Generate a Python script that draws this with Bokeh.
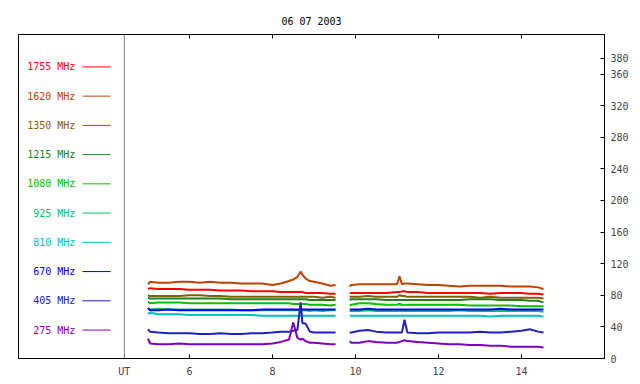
from bokeh.plotting import figure
from bokeh.models import Range1d, LinearAxis, FixedTicker, Span, Title
from bokeh.core.properties import value
from bokeh.embed import file_html
from bokeh.resources import INLINE

title_text = "06 07 2003"
freqs = ["1755 MHz", "1620 MHz", "1350 MHz", "1215 MHz", "1080 MHz",
         "925 MHz", "810 MHz", "670 MHz", "405 MHz", "275 MHz"]
colors = ["#FF0000", "#C04000", "#806000", "#208020", "#00C000",
          "#00C060", "#00C0C0", "#0000FF", "#2020C0", "#8000C0"]

ut_hour = 4.43
x_ticks = [6, 8, 10, 12, 14]
y_ticks = [0, 40, 80, 120, 160, 200, 240, 280, 320, 360, 380]

t1 = [5.00, 5.05, 5.25, 5.50, 5.75, 6.00, 6.25, 6.50, 6.75, 7.00, 7.25, 7.50, 7.75,
      8.00, 8.20, 8.40, 8.50, 8.60, 8.68, 8.72, 8.80, 8.90, 9.00, 9.20, 9.40, 9.52]
t2 = [9.86, 9.90, 10.10, 10.30, 10.50, 10.75, 11.00, 11.06, 11.12, 11.18, 11.25, 11.50,
      11.75, 12.00, 12.25, 12.50, 12.75, 13.00, 13.25, 13.50, 13.75, 14.00, 14.20, 14.40, 14.53]

s1755_a = [88, 89, 88, 88, 88, 87, 87, 87, 86, 86, 86, 85, 85, 85, 84, 84, 84, 84, 84, 84, 83, 83, 83, 83, 82, 82]
s1620_a = [94, 97, 96, 96, 97, 97, 96, 97, 96, 96, 95, 95, 95, 93, 95, 98, 100, 103, 110, 106, 101, 98, 97, 95, 92, 93]
s1350_a = [80, 79, 79, 79, 79, 80, 80, 79, 79, 78, 78, 78, 78, 78, 78, 78, 78, 78, 78, 78, 78, 78, 78, 77, 78, 77]
s1215_a = [77, 76, 76, 76, 76, 76, 76, 76, 76, 75, 75, 75, 75, 75, 75, 75, 75, 75, 75, 75, 75, 74, 74, 74, 74, 74]
s1080_a = [72, 70, 71, 71, 71, 70, 70, 70, 70, 70, 70, 70, 70, 70, 70, 70, 69, 69, 69, 69, 69, 68, 68, 68, 67, 68]
s925_a = [63, 62, 63, 62, 62, 62, 62, 62, 62, 62, 61, 61, 61, 61, 61, 61, 61, 61, 61, 61, 61, 60, 61, 60, 61, 61]
s810_a = [56, 58, 56, 56, 56, 55, 55, 55, 55, 55, 55, 55, 54, 54, 54, 54, 54, 54, 54, 54, 54, 54, 54, 54, 54, 54]
s670_a = [64, 61, 61, 62, 61, 61, 61, 61, 61, 61, 61, 61, 62, 62, 62, 62, 62, 62, 62, 62, 62, 62, 62, 62, 62, 62]
s405_a = [37, 34, 33, 32, 32, 32, 31, 31, 32, 31, 31, 32, 32, 33, 34, 34, 35, 36, 71, 45, 44, 34, 33, 33, 33, 33]
s275_a = [25, 19, 18, 18, 19, 18, 18, 18, 18, 18, 18, 18, 18, 19, 21, 24, 46, 26, 24, 25, 22, 20, 20, 19, 18, 18]

s1755_b = [83, 83, 83, 83, 83, 83, 84, 84, 85, 85, 84, 84, 83, 83, 83, 83, 83, 83, 82, 83, 83, 83, 82, 82, 81]
s1620_b = [91, 93, 94, 94, 94, 94, 94, 104, 94, 95, 95, 94, 93, 93, 92, 91, 92, 92, 92, 92, 91, 91, 91, 90, 88]
s1350_b = [78, 78, 78, 79, 78, 78, 78, 80, 79, 79, 78, 78, 78, 78, 78, 78, 78, 77, 78, 77, 77, 77, 77, 77, 76]
s1215_b = [74, 75, 75, 75, 75, 74, 74, 74, 74, 74, 74, 74, 74, 74, 74, 74, 75, 75, 75, 74, 74, 74, 73, 73, 71]
s1080_b = [67, 68, 70, 70, 69, 68, 68, 69, 68, 68, 68, 68, 68, 68, 68, 68, 67, 67, 67, 67, 67, 66, 66, 66, 66]
s925_b = [60, 60, 60, 61, 60, 60, 60, 60, 60, 60, 60, 60, 60, 60, 60, 61, 60, 60, 60, 60, 60, 60, 60, 60, 59]
s810_b = [54, 54, 54, 54, 54, 54, 54, 54, 54, 54, 54, 54, 54, 54, 54, 54, 54, 54, 53, 54, 54, 54, 54, 54, 53]
s670_b = [62, 62, 62, 63, 62, 62, 62, 62, 62, 62, 62, 62, 62, 62, 62, 62, 62, 62, 62, 63, 62, 62, 62, 62, 62]
s405_b = [33, 33, 35, 36, 34, 33, 33, 33, 33, 49, 33, 32, 32, 33, 33, 33, 33, 34, 33, 33, 34, 35, 37, 34, 33]
s275_b = [22, 20, 20, 22, 21, 20, 20, 21, 22, 23, 22, 21, 20, 19, 18, 18, 17, 17, 16, 16, 15, 15, 15, 15, 14]

series = [(s1755_a, s1755_b), (s1620_a, s1620_b), (s1350_a, s1350_b), (s1215_a, s1215_b),
          (s1080_a, s1080_b), (s925_a, s925_b), (s810_a, s810_b), (s670_a, s670_b),
          (s405_a, s405_b), (s275_a, s275_b)]

FONT = "DejaVu Sans Mono"

p = figure(width=632, height=380, output_backend="svg", toolbar_location=None,
           x_range=Range1d(1.88, 16.0), y_range=Range1d(0, 410),
           x_axis_location="below", y_axis_location="right",
           min_border_left=18, min_border_right=28, min_border_top=34, min_border_bottom=22)
p.title = Title(text=title_text, align="center", text_font=FONT, text_font_size="10px",
                text_font_style="normal", text_color="black", standoff=15)
p.grid.visible = False
p.outline_line_color = "black"
p.outline_line_alpha = 1
p.background_fill_color = "white"
p.border_fill_color = "white"

# bottom axis
xa = p.xaxis[0]
xa.ticker = FixedTicker(ticks=[ut_hour] + x_ticks)
xa.major_label_overrides = {ut_hour: "UT"}
xa.major_tick_in = 4
xa.major_tick_out = 0
xa.minor_tick_line_color = None
xa.major_label_standoff = 7
xa.major_label_text_font = FONT
xa.major_label_text_font_size = "10px"
xa.axis_line_color = "black"

# right axis
ya = p.yaxis[0]
ya.ticker = FixedTicker(ticks=y_ticks)
ya.major_tick_in = 4
ya.major_tick_out = 0
ya.minor_tick_line_color = None
ya.major_label_standoff = 6
ya.major_label_text_font = FONT
ya.major_label_text_font_size = "10px"
ya.axis_line_color = "black"

# top axis (ticks only)
ta = LinearAxis(ticker=FixedTicker(ticks=x_ticks), major_tick_in=4, major_tick_out=0,
                minor_tick_line_color=None, major_label_text_color=None,
                major_label_standoff=0, axis_line_color="black")
p.add_layout(ta, "above")

# UT separator
p.add_layout(Span(location=ut_hour, dimension="height", line_color="#808080", line_width=1))

# data
for (a, b), c in zip(series, colors):
    xs = t1 + [float("nan")] + t2
    ys = a + [float("nan")] + b
    p.line(xs, ys, line_color=c, line_width=2)

# legend (label then line), laid out from top
leg_top = 369
leg_step = 37
for i, (f, c) in enumerate(zip(freqs, colors)):
    yy = leg_top - i * leg_step
    p.text(x=[3.25], y=[yy], text=[f], text_color=c, text_font=value(FONT),
           text_font_size="10px", text_align="right", text_baseline="middle")
    p.segment(x0=[3.42], y0=[yy], x1=[4.10], y1=[yy], line_color=c, line_width=1)

open("out.html", "w").write(file_html(p, INLINE))
